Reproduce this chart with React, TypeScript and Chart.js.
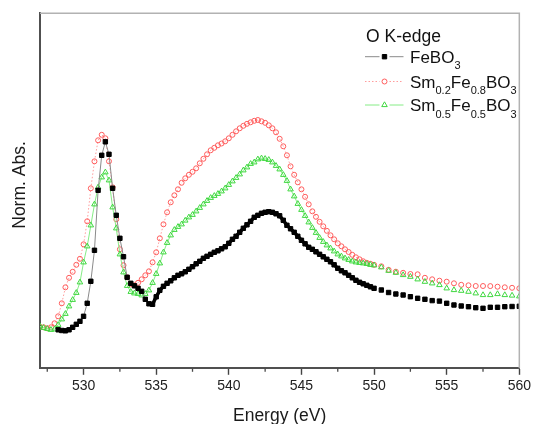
import React, { useEffect, useRef } from "react";
import { Chart, registerables } from "chart.js";

Chart.register(...registerables);

// Photon energy grid (eV)
const ENERGY_EV = [
  527, 527.25, 527.5, 527.75, 528, 528.25, 528.5, 528.75, 529, 529.25,
  529.5, 529.75, 530, 530.25, 530.5, 530.75, 531, 531.25, 531.5, 531.75,
  532, 532.25, 532.5, 532.75, 533, 533.25, 533.5, 533.75, 534, 534.25,
  534.5, 534.75, 535, 535.25, 535.5, 535.75, 536, 536.25, 536.5, 536.75,
  537, 537.25, 537.5, 537.75, 538, 538.25, 538.5, 538.75, 539, 539.25,
  539.5, 539.75, 540, 540.25, 540.5, 540.75, 541, 541.25, 541.5, 541.75,
  542, 542.25, 542.5, 542.75, 543, 543.25, 543.5, 543.75, 544, 544.25,
  544.5, 544.75, 545, 545.25, 545.5, 545.75, 546, 546.25, 546.5, 546.75,
  547, 547.25, 547.5, 547.75, 548, 548.25, 548.5, 548.75, 549, 549.25,
  549.5, 549.75, 550,
  550.5, 551, 551.5, 552, 552.5, 553, 553.5, 554, 554.5, 555,
  555.5, 556, 556.5, 557, 557.5, 558, 558.5, 559, 559.5, 560,
];

// Normalised absorption, FeBO3
const FEBO3 = [
  null, null, null, null, null, 0.385, 0.378, 0.375, 0.385, 0.41,
  0.44, 0.47, 0.52, 0.65, 0.87, 1.18, 1.78, 2.13, 2.265, 2.14,
  1.8, 1.53, 1.3, 1.116, 0.91, 0.85, 0.825, 0.8, 0.77, 0.69,
  0.645, 0.64, 0.715, 0.78, 0.82, 0.85, 0.875, 0.905, 0.93, 0.945,
  0.965, 0.99, 1.016, 1.045, 1.07, 1.1, 1.12, 1.14, 1.16, 1.175,
  1.195, 1.215, 1.25, 1.29, 1.32, 1.36, 1.4, 1.435, 1.47, 1.51,
  1.53, 1.55, 1.56, 1.566, 1.56, 1.545, 1.525, 1.48, 1.43, 1.395,
  1.36, 1.32, 1.28, 1.245, 1.21, 1.19, 1.165, 1.14, 1.115, 1.09,
  1.065, 1.035, 1.0, 0.975, 0.955, 0.93, 0.905, 0.88, 0.86, 0.845,
  0.83, 0.815, 0.8,
  0.783, 0.758, 0.743, 0.733, 0.716, 0.7, 0.69, 0.677, 0.672, 0.65,
  0.633, 0.623, 0.616, 0.606, 0.6, 0.61, 0.61, 0.616, 0.618, 0.62,
];

// Normalised absorption, Sm0.2Fe0.8BO3
const SM02_FE08 = [
  0.415, 0.41, 0.4, 0.41, 0.45, 0.52, 0.65, 0.81, 0.905, 0.965,
  1.035, 1.095, 1.24, 1.47, 1.8, 2.07, 2.28, 2.335, 2.3, 2.07,
  1.81, 1.49, 1.19, 1.03, 0.91, 0.84, 0.83, 0.855, 0.89, 0.93,
  0.97, 1.06, 1.16, 1.3, 1.44, 1.56, 1.66, 1.73, 1.79, 1.855,
  1.9, 1.935, 1.965, 2.0, 2.05, 2.095, 2.14, 2.18, 2.205, 2.23,
  2.248, 2.27, 2.3, 2.335, 2.37, 2.4, 2.425, 2.445, 2.46, 2.475,
  2.483, 2.47, 2.455, 2.43, 2.4, 2.36, 2.295, 2.22, 2.13, 2.02,
  1.935, 1.86, 1.79, 1.715, 1.64, 1.57, 1.515, 1.465, 1.42, 1.375,
  1.33, 1.29, 1.25, 1.22, 1.19, 1.163, 1.135, 1.11, 1.09, 1.07,
  1.055, 1.045, 1.035,
  1.02, 0.985, 0.966, 0.955, 0.943, 0.94, 0.905, 0.89, 0.876, 0.866,
  0.85, 0.835, 0.83, 0.823, 0.823, 0.822, 0.816, 0.81, 0.805, 0.8,
];

// Normalised absorption, Sm0.5Fe0.5BO3
const SM05_FE05 = [
  0.42, 0.405, 0.395, 0.385, 0.39, 0.435, 0.49, 0.545, 0.62, 0.685,
  0.755, 0.86, 1.06, 1.22, 1.43, 1.64, 1.81, 1.91, 1.96, 1.88,
  1.61, 1.4, 1.14, 0.96, 0.825, 0.765, 0.75, 0.745, 0.73, 0.745,
  0.78, 0.855, 0.945, 1.05, 1.16, 1.255, 1.33, 1.385, 1.415, 1.44,
  1.478, 1.51, 1.535, 1.57, 1.605, 1.64, 1.675, 1.705, 1.725, 1.745,
  1.77, 1.8, 1.835, 1.87, 1.905, 1.94, 1.98, 2.01, 2.045, 2.06,
  2.09, 2.1, 2.095, 2.085, 2.06, 2.025, 1.99, 1.935, 1.875, 1.79,
  1.72, 1.645, 1.585, 1.525, 1.46, 1.405, 1.355, 1.305, 1.265, 1.23,
  1.2, 1.17, 1.14, 1.12, 1.1, 1.085, 1.07, 1.06, 1.055, 1.05,
  1.045, 1.035, 1.03,
  1.01, 0.976, 0.956, 0.933, 0.916, 0.89, 0.866, 0.85, 0.833, 0.8,
  0.783, 0.776, 0.766, 0.75, 0.733, 0.733, 0.743, 0.733, 0.728, 0.72,
];

const X_TICKS = [530, 535, 540, 545, 550, 555, 560];
const X_MINOR_TICKS = [527.5, 532.5, 537.5, 542.5, 547.5, 552.5, 557.5];
const X_MIN = 527;
const X_MAX = 560;
const Y_MIN = 0;
const Y_MAX = 3.55;
const LINE_END_EV = 550; // beyond this, points are shown without connecting lines
const FEBO3_DENSE_FROM_EV = 534.5; // dense, merged-marker part of the FeBO3 trace

const X_TITLE = "Energy (eV)";
const Y_TITLE = "Norm. Abs.";
const LEGEND_TITLE = "O K-edge";
const SERIES_NAMES = ["FeBO_3", "Sm_{0.2}Fe_{0.8}BO_3", "Sm_{0.5}Fe_{0.5}BO_3"];

const FONT = "'Liberation Sans', Arial, Helvetica, sans-serif";

const STYLES = [
  { marker: "rect", radius: 3.1, stroke: "#000000", fill: "#000000", line: "#8a8a8a", dash: [] as number[] },
  { marker: "circle", radius: 2.5, stroke: "#ff5c5c", fill: "rgba(0,0,0,0)", line: "#ff9c9c", dash: [1.5, 2] },
  { marker: "triangle", radius: 3.2, stroke: "#3fd83f", fill: "rgba(0,0,0,0)", line: "#86ec86", dash: [] as number[] },
];

function parseRich(s: string) {
  const parts: { t: string; sub: boolean }[] = [];
  const re = /_\{([^}]*)\}|_(.)/g;
  let last = 0;
  let m: RegExpExecArray | null;
  while ((m = re.exec(s))) {
    if (m.index > last) parts.push({ t: s.slice(last, m.index), sub: false });
    parts.push({ t: m[1] !== undefined ? m[1] : m[2], sub: true });
    last = re.lastIndex;
  }
  if (last < s.length) parts.push({ t: s.slice(last), sub: false });
  return parts;
}

function drawMarker(ctx: CanvasRenderingContext2D, kind: string, x: number, y: number, r: number, stroke: string, fill: string) {
  ctx.save();
  ctx.lineWidth = 1;
  ctx.strokeStyle = stroke;
  ctx.fillStyle = fill;
  ctx.beginPath();
  if (kind === "rect") {
    const s = Math.SQRT1_2 * r;
    ctx.rect(x - s, y - s, 2 * s, 2 * s);
  } else if (kind === "circle") {
    ctx.arc(x, y, r, 0, Math.PI * 2);
  } else {
    let a = 0;
    ctx.moveTo(x + Math.sin(a) * r, y - Math.cos(a) * r);
    a += (2 * Math.PI) / 3;
    ctx.lineTo(x + Math.sin(a) * r, y - Math.cos(a) * r);
    a += (2 * Math.PI) / 3;
    ctx.lineTo(x + Math.sin(a) * r, y - Math.cos(a) * r);
    ctx.closePath();
  }
  ctx.fill();
  ctx.stroke();
  ctx.restore();
}

const decorPlugin = {
  id: "decor",
  afterDraw(chart: any) {
    const { ctx, chartArea } = chart;
    const xs = chart.scales.x;
    ctx.save();
    // top and right frame lines
    ctx.strokeStyle = "#b2b2b2";
    ctx.lineWidth = 1.5;
    ctx.beginPath();
    ctx.moveTo(chartArea.left, chartArea.top);
    ctx.lineTo(chartArea.right, chartArea.top);
    ctx.lineTo(chartArea.right, chartArea.bottom);
    ctx.stroke();
    // minor ticks
    ctx.strokeStyle = "#4a4a4a";
    ctx.lineWidth = 1.3;
    X_MINOR_TICKS.forEach((v) => {
      const px = xs.getPixelForValue(v);
      ctx.beginPath();
      ctx.moveTo(px, chartArea.bottom);
      ctx.lineTo(px, chartArea.bottom + 3.5);
      ctx.stroke();
    });
    // axis titles
    ctx.fillStyle = "#1a1a1a";
    ctx.font = `17.5px ${FONT}`;
    ctx.textAlign = "center";
    ctx.textBaseline = "alphabetic";
    ctx.fillText(X_TITLE, (chartArea.left + chartArea.right) / 2, 421);
    ctx.save();
    ctx.translate(25, 185);
    ctx.rotate(-Math.PI / 2);
    ctx.fillText(Y_TITLE, 0, 0);
    ctx.restore();

    // legend
    ctx.textAlign = "left";
    ctx.fillStyle = "#111111";
    ctx.font = `17.5px ${FONT}`;
    ctx.fillText(LEGEND_TITLE, 366, 42.2);
    const rowY = [56.7, 81.5, 105];
    SERIES_NAMES.forEach((name, i) => {
      const st = STYLES[i];
      const y = rowY[i];
      ctx.save();
      ctx.strokeStyle = st.line;
      ctx.lineWidth = 1;
      ctx.setLineDash(st.dash);
      ctx.beginPath();
      ctx.moveTo(365, y);
      ctx.lineTo(379.5, y);
      ctx.moveTo(389.5, y);
      ctx.lineTo(403.5, y);
      ctx.stroke();
      ctx.restore();
      drawMarker(ctx, st.marker, 384.5, y, st.radius, st.stroke, st.fill);
      let x = 410;
      const base = y + 6.1;
      parseRich(name).forEach((p) => {
        ctx.font = p.sub ? `11px ${FONT}` : `17px ${FONT}`;
        ctx.fillStyle = "#111111";
        ctx.fillText(p.t, x, p.sub ? base + 6.5 : base);
        x += ctx.measureText(p.t).width;
      });
    });
    ctx.restore();
  },
};

function makeDataset(label: string, values: (number | null)[], i: number, order: number, denseFrom?: number) {
  const st = STYLES[i];
  return {
    label,
    data: ENERGY_EV.map((e, k) => ({ x: e, y: values[k] })),
    order,
    showLine: true,
    borderColor: st.line,
    borderWidth: 1,
    borderDash: st.dash,
    pointStyle: st.marker,
    pointRadius: st.radius,
    pointBorderWidth: 1,
    pointBorderColor: st.stroke,
    pointBackgroundColor: st.fill,
    pointHoverRadius: st.radius,
    spanGaps: false,
    tension: 0,
    segment: {
      borderColor: (c: any) => {
        const x0 = c.p0.parsed.x;
        if (x0 >= LINE_END_EV) return "rgba(0,0,0,0)";
        if (denseFrom !== undefined && x0 >= denseFrom) return st.stroke;
        return st.line;
      },
      borderWidth: (c: any) => {
        const x0 = c.p0.parsed.x;
        if (denseFrom !== undefined && x0 >= denseFrom && x0 < LINE_END_EV) return 3.5;
        return 1;
      },
    },
  };
}

export default function App() {
  const canvasRef = useRef<HTMLCanvasElement | null>(null);

  useEffect(() => {
    const canvas = canvasRef.current;
    if (!canvas) return;
    const chart = new Chart(canvas, {
      type: "scatter",
      data: {
        datasets: [
          makeDataset("FeBO3", FEBO3, 0, 0, FEBO3_DENSE_FROM_EV),
          makeDataset("Sm0.2Fe0.8BO3", SM02_FE08, 1, 2),
          makeDataset("Sm0.5Fe0.5BO3", SM05_FE05, 2, 1),
        ] as any,
      },
      options: {
        responsive: false,
        animation: false,
        devicePixelRatio: 1,
        layout: { padding: { top: 13.3, right: 11.7, bottom: 0, left: 0 } },
        plugins: {
          legend: { display: false },
          tooltip: { enabled: false },
          title: { display: false },
        },
        scales: {
          x: {
            type: "linear",
            min: X_MIN,
            max: X_MAX,
            afterBuildTicks: (s: any) => {
              s.ticks = X_TICKS.map((v) => ({ value: v }));
            },
            afterFit: (s: any) => {
              s.height = 55.7;
            },
            ticks: {
              color: "#222222",
              font: { family: FONT, size: 14 },
              padding: 3,
              maxRotation: 0,
              autoSkip: false,
            },
            grid: {
              display: true,
              drawOnChartArea: false,
              drawTicks: true,
              tickLength: 6.5,
              tickColor: "#444444",
              tickWidth: 1.4,
            },
            border: { display: true, color: "#505050", width: 2 },
            title: { display: false },
          },
          y: {
            type: "linear",
            min: Y_MIN,
            max: Y_MAX,
            afterFit: (s: any) => {
              s.width = 40;
            },
            ticks: { display: false },
            grid: { display: false, drawTicks: false },
            border: { display: true, color: "#505050", width: 2 },
            title: { display: false },
          },
        },
      } as any,
      plugins: [decorPlugin],
    });
    return () => chart.destroy();
  }, []);

  return (
    <div style={{ position: "absolute", left: 0, top: 0, width: 534, height: 424, background: "#ffffff" }}>
      <canvas ref={canvasRef} width={534} height={424} style={{ display: "block" }} />
    </div>
  );
}
